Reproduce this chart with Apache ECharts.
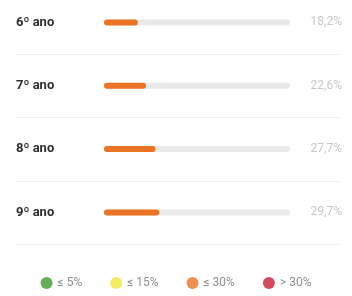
<!DOCTYPE html>
<html>
<head>
<meta charset="utf-8">
<script src="https://cdn.jsdelivr.net/npm/echarts@6/dist/echarts.min.js"></script>
<style>
  html, body { margin: 0; padding: 0; background: #fff; }
  #chart { width: 352px; height: 296px; }
</style>
</head>
<body>
<div id="chart"></div>
<script>
const categories = ['6º ano', '7º ano', '8º ano', '9º ano'];
const values = [18.2, 22.6, 27.7, 29.7];
const legendNames = ['≤ 5%', '≤ 15%', '≤ 30%', '> 30%'];
const limits = [5, 15, 30, Infinity];
const levelColors = ['#3f9b2c', '#f2e73a', '#ea7324', '#c81d33'];

function colorFor(v) {
  for (let i = 0; i < limits.length; i++) {
    if (v <= limits[i]) return levelColors[i];
  }
  return levelColors[levelColors.length - 1];
}

const chart = echarts.init(document.getElementById('chart'), null, { renderer: 'canvas' });

const gridTop = -9.2, gridH = 253.3;

const option = {
  animation: false,
  grid: [
    { left: 15, right: 12, top: gridTop, height: gridH, outerBoundsMode: 'none' },
    { left: 104, right: 62, top: gridTop, height: gridH, outerBoundsMode: 'none' }
  ],
  xAxis: [
    { gridIndex: 0, type: 'value', show: false },
    { gridIndex: 1, type: 'value', min: 0, max: 100, show: false }
  ],
  yAxis: [
    {
      gridIndex: 0, type: 'category', inverse: true, data: categories,
      axisLine: { show: false }, axisTick: { show: false }, axisLabel: { show: false },
      splitLine: { show: true, lineStyle: { color: '#f1f1f1', width: 1 } }
    },
    {
      gridIndex: 1, type: 'category', inverse: true, data: categories,
      axisLine: { show: false }, axisTick: { show: false }, splitLine: { show: false },
      axisLabel: {
        align: 'left', margin: 88, color: '#2f2f2f',
        fontFamily: 'Roboto', fontSize: 13, fontWeight: 'bold'
      }
    },
    {
      gridIndex: 1, type: 'category', inverse: true, position: 'right',
      data: values.map(v => v.toFixed(1).replace('.', ',') + '%'),
      axisLine: { show: false }, axisTick: { show: false }, splitLine: { show: false },
      axisLabel: {
        align: 'right', margin: 52, color: '#c8c8c8',
        fontFamily: 'Roboto', fontSize: 12
      }
    }
  ],
  legend: {
    bottom: 2, left: 'center',
    icon: 'circle', itemWidth: 12, itemHeight: 12, itemGap: 28,
    textStyle: { color: '#8f8f8f', fontSize: 12, fontFamily: 'Roboto', padding: [0, 0, 0, 0] },
    data: legendNames
  },
  series: [
    {
      type: 'bar', xAxisIndex: 1, yAxisIndex: 1,
      barWidth: 6,
      showBackground: true,
      backgroundStyle: { color: '#e9e9e9', borderRadius: 3 },
      itemStyle: { borderRadius: 3 },
      data: values.map(v => ({ value: v, itemStyle: { color: colorFor(v) } }))
    }
  ].concat(legendNames.map((n, i) => ({
    type: 'scatter', name: n, xAxisIndex: 1, yAxisIndex: 1,
    itemStyle: { color: levelColors[i] }, data: []
  })))
};

chart.setOption(option);
</script>
</body>
</html>
